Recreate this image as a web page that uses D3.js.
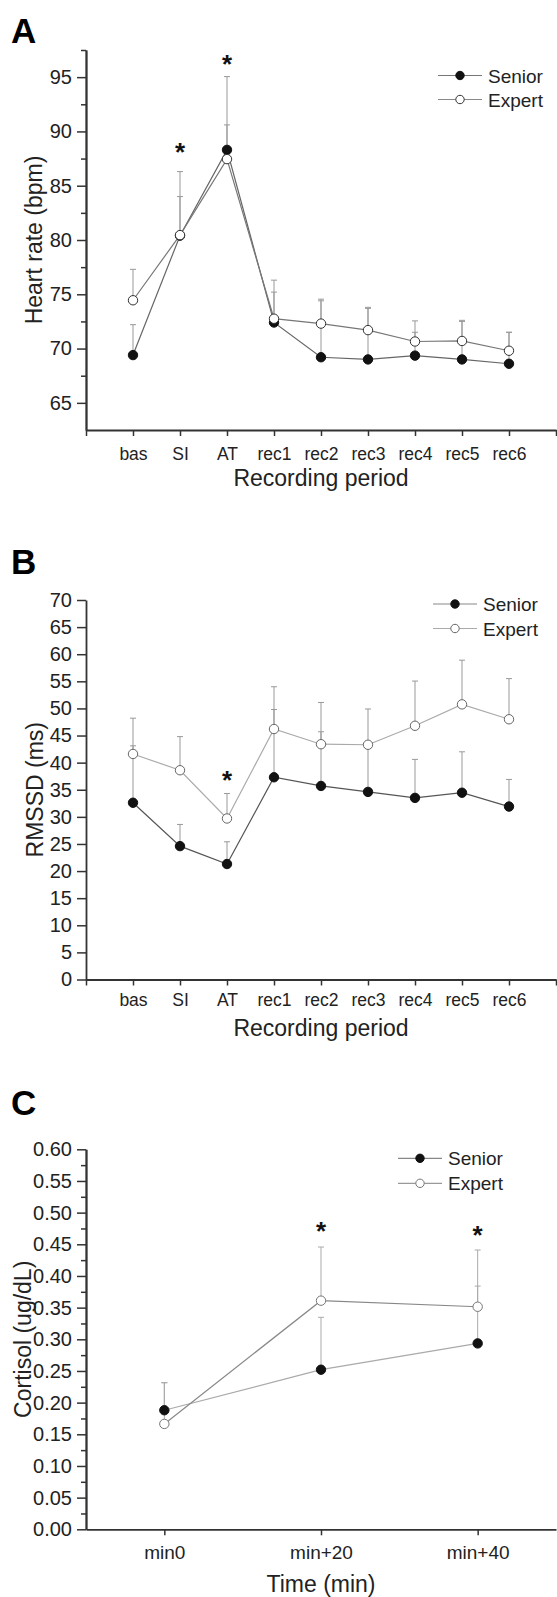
<!DOCTYPE html>
<html>
<head>
<meta charset="utf-8">
<script src="https://cdn.jsdelivr.net/npm/d3@7"></script>
<style>
    body { margin: 0; background: #fff; }
    svg text { font-family: "Liberation Sans", Arial, Helvetica, sans-serif; fill: #222; }
</style>
</head>
<body>
<div class="chart"></div>
<script>
//Width and height of the whole figure
var w = 557;
var h = 1597;

// Panel A + B categories
var periods = ["bas", "SI", "AT", "rec1", "rec2", "rec3", "rec4", "rec5", "rec6"];

// A - heart rate (mean and upper SE length)
var hrSenior   = [69.4, 80.4, 88.3, 72.4, 69.2, 69.0, 69.35, 69.0, 68.6];
var hrSeniorSE = [2.8, 3.6, 2.3, 2.8, 5.2, 4.7, 2.15, 3.5, 2.9];
var hrExpert   = [74.45, 80.45, 87.45, 72.75, 72.3, 71.7, 70.65, 70.7, 69.8];
var hrExpertSE = [2.85, 5.85, 7.6, 3.55, 2.25, 2.1, 1.9, 1.9, 1.7];
var hrTicks = [65, 70, 75, 80, 85, 90, 95];
var hrMinor = [67.5, 72.5, 77.5, 82.5, 87.5, 92.5, 97.5];
var hrStars = ["SI", "AT"];
var hrStarLevel = [88.6, 96.7];

// B - RMSSD
var rmSenior   = [32.6, 24.6, 21.3, 37.3, 35.7, 34.6, 33.5, 34.45, 31.9];
var rmSeniorSE = [10.5, 4.0, 4.1, 12.5, 10.0, 8.4, 7.1, 7.55, 5.0];
var rmExpert   = [41.6, 38.6, 29.7, 46.2, 43.4, 43.3, 46.8, 50.75, 48.0];
var rmExpertSE = [6.6, 6.2, 4.6, 7.8, 7.7, 6.6, 8.25, 8.15, 7.5];
var rmTicks = [0, 5, 10, 15, 20, 25, 30, 35, 40, 45, 50, 55, 60, 65, 70];
var rmStars = ["AT"];
var rmStarLevel = [37.8];

// C - cortisol
var cortTimes  = [0, 20, 40];
var cortLabels = ["min0", "min+20", "min+40"];
var cortSenior   = [0.188, 0.252, 0.2935];
var cortSeniorSE = [0.0435, 0.0827, 0.0905];
var cortExpert   = [0.1664, 0.361, 0.3514];
var cortExpertSE = [0.065, 0.0847, 0.0896];
var cortTicks = [0.00, 0.05, 0.10, 0.15, 0.20, 0.25, 0.30, 0.35, 0.40, 0.45, 0.50, 0.55, 0.60];
var cortMinor = [0.025, 0.075, 0.125, 0.175, 0.225, 0.275, 0.325, 0.375, 0.425, 0.475, 0.525, 0.575];
var cortStars = [20, 40];
var cortStarLevel = [0.479, 0.472];

var axisLeftX = 86, axisRightX = 556;

var svg = d3.select(".chart")
    .append("svg")
    .attr("width", w)
    .attr("height", h);

function styleAxis(g) {
    g.attr("font-size", null).attr("font-family", null);
    g.select(".domain").attr("stroke", "#333").attr("stroke-width", 1.8);
    g.selectAll(".tick line").attr("stroke", "#333").attr("stroke-width", 1.5);
    g.selectAll(".tick text").attr("fill", "#222");
}

function drawPanel(p) {
    var g = svg.append("g");

    var xScale = d3.scaleLinear().domain(p.xDomain).range([axisLeftX, axisRightX]);
    var yScale = d3.scaleLinear().domain(p.yDomain).range([p.bottom, p.top]);

    // panel letter
    g.append("text")
        .attr("x", p.letterX).attr("y", p.letterY)
        .style("font-size", "35px").style("font-weight", "bold").style("fill", "#000")
        .text(p.letter);

    // minor y ticks
    if (p.minor) {
        g.append("g")
            .attr("transform", "translate(" + axisLeftX + ",0)")
            .call(d3.axisLeft(yScale).tickValues(p.minor).tickSize(5).tickSizeOuter(0).tickFormat(""))
            .call(styleAxis);
    }
    // y axis
    var yAx = g.append("g")
        .attr("transform", "translate(" + axisLeftX + ",0)")
        .call(d3.axisLeft(yScale).tickValues(p.yTicks).tickSize(9).tickSizeOuter(0).tickPadding(5).tickFormat(p.yFormat))
        .call(styleAxis);
    yAx.selectAll(".tick text").style("font-size", "20px");

    // x axis
    var xAx = g.append("g")
        .attr("transform", "translate(0," + p.bottom + ")")
        .call(d3.axisBottom(xScale).tickValues(p.xTicks).tickSize(6).tickSizeOuter(0).tickPadding(p.xPad).tickFormat(p.xFormat))
        .call(styleAxis);
    xAx.selectAll(".tick text").style("font-size", p.xFont);

    // axis titles
    g.append("text")
        .attr("transform", "translate(" + p.yTitleX + "," + (p.bottom + p.top) / 2 + ") rotate(-90)")
        .attr("text-anchor", "middle")
        .style("font-size", "23px")
        .text(p.yTitle);
    g.append("text")
        .attr("x", (axisLeftX + axisRightX) / 2)
        .attr("y", p.xTitleY)
        .attr("text-anchor", "middle")
        .style("font-size", "23px")
        .text(p.xTitle);

    // error bars (upper only)
    p.series.forEach(function(s) {
        var eb = g.append("g").attr("stroke", p.errColor).attr("stroke-width", 1);
        s.values.forEach(function(v, i) {
            var cx = xScale(p.xs[i]);
            var top = yScale(v + s.se[i]);
            eb.append("line").attr("x1", cx).attr("x2", cx).attr("y1", yScale(v)).attr("y2", top);
            eb.append("line").attr("x1", cx - 3).attr("x2", cx + 3).attr("y1", top).attr("y2", top);
        });
    });

    // lines
    var line = d3.line()
        .x(function(d, i) { return xScale(p.xs[i]); })
        .y(function(d) { return yScale(d); });
    p.series.forEach(function(s) {
        g.append("path")
            .datum(s.values)
            .attr("d", line)
            .attr("fill", "none")
            .attr("stroke", s.lineColor)
            .attr("stroke-width", 1.2);
    });

    // markers
    p.series.forEach(function(s) {
        g.append("g").selectAll("circle")
            .data(s.values)
            .enter()
            .append("circle")
            .attr("cx", function(d, i) { return xScale(p.xs[i]); })
            .attr("cy", function(d) { return yScale(d); })
            .attr("r", 4.7)
            .attr("fill", s.fill)
            .attr("stroke", s.stroke)
            .attr("stroke-width", 1);
    });

    // significance stars
    p.stars.forEach(function(st, i) {
        g.append("text")
            .attr("x", xScale(st))
            .attr("y", yScale(p.starLevel[i]) + 14)
            .attr("text-anchor", "middle")
            .style("font-size", "26px").style("font-weight", "bold").style("fill", "#111")
            .text("*");
    });

    // legend
    p.series.forEach(function(s, i) {
        var ly = p.legY + i * p.legGap;
        g.append("line")
            .attr("x1", p.legX).attr("x2", p.legX + 44)
            .attr("y1", ly).attr("y2", ly)
            .attr("stroke", s.legLine).attr("stroke-width", 1.2);
        g.append("circle")
            .attr("cx", p.legX + 22).attr("cy", ly).attr("r", 4.2)
            .attr("fill", s.fill).attr("stroke", s.stroke).attr("stroke-width", 1);
        g.append("text")
            .attr("x", p.legX + 50).attr("y", ly + 7)
            .style("font-size", "19px")
            .text(s.name);
    });
}

function periodPos(name) { return periods.indexOf(name) + 1; }
var periodXs = periods.map(function(d, i) { return i + 1; });

// Panel A
drawPanel({
    letter: "A", letterX: 11, letterY: 43,
    top: 50, bottom: 430, yDomain: [62.5, 97.5],
    yTicks: hrTicks, minor: hrMinor, yFormat: d3.format("d"),
    xDomain: [0, 10], xTicks: d3.range(0, 11), xs: periodXs,
    xFormat: function(d) { return periods[d - 1] || ""; },
    xPad: 12, xFont: "17.5px",
    yTitle: "Heart rate (bpm)", yTitleX: 42,
    xTitle: "Recording period", xTitleY: 486,
    errColor: "#999",
    series: [
        {name: "Senior", values: hrSenior, se: hrSeniorSE, lineColor: "#666", fill: "#111", stroke: "#111", legLine: "#777"},
        {name: "Expert", values: hrExpert, se: hrExpertSE, lineColor: "#777", fill: "#fff", stroke: "#333", legLine: "#888"}
    ],
    stars: hrStars.map(periodPos), starLevel: hrStarLevel,
    legX: 438, legY: 75.5, legGap: 24
});

// Panel B
drawPanel({
    letter: "B", letterX: 11, letterY: 574,
    top: 600, bottom: 979.5, yDomain: [0, 70],
    yTicks: rmTicks, minor: null, yFormat: d3.format("d"),
    xDomain: [0, 10], xTicks: d3.range(0, 11), xs: periodXs,
    xFormat: function(d) { return periods[d - 1] || ""; },
    xPad: 8, xFont: "17.5px",
    yTitle: "RMSSD (ms)", yTitleX: 43,
    xTitle: "Recording period", xTitleY: 1036,
    errColor: "#999",
    series: [
        {name: "Senior", values: rmSenior, se: rmSeniorSE, lineColor: "#555", fill: "#111", stroke: "#111", legLine: "#888"},
        {name: "Expert", values: rmExpert, se: rmExpertSE, lineColor: "#aaa", fill: "#fff", stroke: "#666", legLine: "#aaa"}
    ],
    stars: rmStars.map(periodPos), starLevel: rmStarLevel,
    legX: 433, legY: 604, legGap: 24.5
});

// Panel C
drawPanel({
    letter: "C", letterX: 11, letterY: 1115,
    top: 1149.3, bottom: 1529.3, yDomain: [0, 0.6],
    yTicks: cortTicks, minor: cortMinor, yFormat: d3.format(".2f"),
    xDomain: [-10, 50], xTicks: cortTimes, xs: cortTimes,
    xFormat: function(d) { return cortLabels[cortTimes.indexOf(d)]; },
    xPad: 10, xFont: "19px",
    yTitle: "Cortisol (ug/dL)", yTitleX: 31,
    xTitle: "Time (min)", xTitleY: 1592,
    errColor: "#aaa",
    series: [
        {name: "Senior", values: cortSenior, se: cortSeniorSE, lineColor: "#aaa", fill: "#111", stroke: "#111", legLine: "#888"},
        {name: "Expert", values: cortExpert, se: cortExpertSE, lineColor: "#888", fill: "#fff", stroke: "#777", legLine: "#999"}
    ],
    stars: cortStars, starLevel: cortStarLevel,
    legX: 398, legY: 1158.3, legGap: 25
});
</script>
</body>
</html>
